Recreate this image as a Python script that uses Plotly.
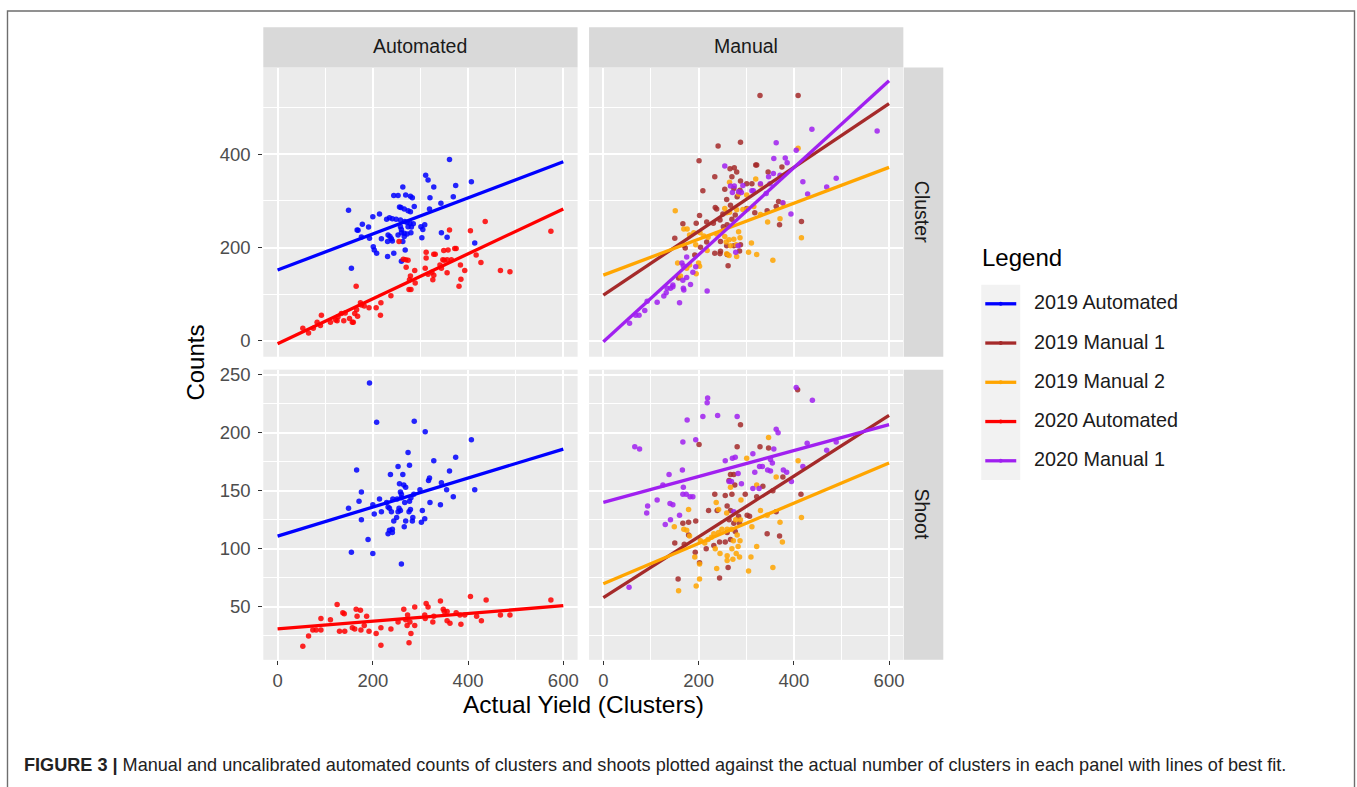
import plotly.graph_objects as go

W, H = 1357, 787

# ------------------------------------------------------------------ data
FIT_X = [0, 600]

# Cluster / Automated
c_a19_x = [361, 311, 316, 328, 374, 407, 369, 263, 244, 253, 269, 279, 283, 320, 343, 287, 256, 259, 266, 274,
           279, 319, 149, 200, 214, 229, 235, 241, 249, 258, 267, 272, 278, 285, 274, 281, 301, 309, 305, 178,
           191, 167, 169, 258, 260, 176, 193, 218, 232, 236, 239, 231, 241, 253, 260, 266, 272, 280, 266, 263,
           344, 356, 303, 414, 201, 203, 208, 268, 231, 244, 260, 155]
c_a19_y = [389, 355, 345, 330, 333, 341, 309, 330, 312, 312, 313, 310, 307, 307, 295, 288, 287, 286, 283, 279,
           277, 283, 280, 266, 272, 261, 264, 262, 261, 259, 256, 254, 252, 251, 245, 244, 245, 249, 239, 250,
           244, 238, 237, 245, 239, 223, 220, 219, 227, 224, 219, 213, 214, 227, 232, 231, 229, 232, 224, 213,
           232, 222, 221, 210, 202, 195, 188, 195, 181, 188, 171, 156]
c_a20_x = [361, 405, 436, 574, 255, 372, 349, 358, 375, 312, 328, 331, 312, 417, 427, 264, 269, 274, 347, 350,
           356, 365, 384, 393, 468, 488, 270, 288, 310, 341, 344, 356, 324, 328, 316, 326, 279, 277, 289, 385,
           381, 276, 280, 165, 238, 217, 207, 192, 182, 174, 176, 166, 162, 168, 159, 157, 216, 142, 134, 139,
           127, 122, 111, 125, 92, 83, 90, 75, 53, 65, 151]
c_a20_y = [238, 236, 256, 235, 213, 198, 194, 195, 198, 190, 186, 186, 178, 184, 168, 175, 174, 173, 174, 173,
           174, 174, 163, 151, 151, 148, 158, 151, 156, 163, 156, 146, 147, 141, 143, 131, 139, 131, 124, 132,
           117, 110, 110, 117, 97, 82, 71, 71, 75, 82, 77, 67, 59, 53, 40, 40, 55, 60, 59, 43,
           52, 45, 40, 43, 55, 40, 33, 27, 27, 17, 48]

# Cluster / Manual
c_m19a_x = [329, 409, 241, 288, 201, 234, 209, 255, 266, 275, 280, 270, 288, 301, 312, 320, 322, 346, 375, 287,
            274, 259, 235, 238, 251, 267, 281, 301, 318, 344, 363, 368, 416, 370, 202, 195, 167, 150, 217, 231,
            245, 252, 260, 270, 277, 204, 217, 246, 259, 274, 288, 246, 234, 245, 260, 286, 192, 169, 158, 262, 172]
c_m19a_y = [526, 526, 418, 426, 386, 352, 322, 325, 369, 371, 362, 352, 343, 337, 337, 377, 377, 362, 373, 323,
            327, 303, 286, 283, 272, 291, 309, 284, 275, 279, 288, 299, 256, 249, 269, 252, 251, 220, 255, 252,
            259, 245, 249, 261, 270, 201, 212, 213, 204, 204, 206, 192, 188, 187, 185, 193, 184, 205, 135, 161, 199]
c_m19b_x = [409, 151, 265, 284, 301, 320, 330, 255, 259, 265, 280, 293, 303, 316, 330, 345, 371, 377, 416, 169,
            176, 181, 190, 203, 211, 194, 220, 238, 255, 264, 274, 287, 284, 258, 267, 279, 311, 259, 264, 280,
            305, 322, 356, 218, 156, 175, 181, 200, 202, 195, 162]
c_m19b_y = [413, 279, 340, 315, 313, 347, 335, 284, 275, 276, 281, 282, 283, 288, 271, 255, 262, 295, 221, 240,
            240, 227, 232, 232, 225, 206, 222, 229, 224, 217, 218, 221, 234, 212, 204, 206, 210, 187, 183, 181,
            190, 185, 173, 194, 167, 156, 163, 167, 160, 144, 139]
c_m20_x = [575, 438, 363, 405, 358, 382, 386, 371, 357, 347, 330, 350, 342, 315, 255, 267, 275, 271, 284, 290,
           293, 312, 419, 429, 469, 489, 394, 377, 283, 278, 175, 165, 168, 194, 188, 175, 167, 146, 141, 132,
           127, 113, 92, 87, 75, 68, 55, 160, 183, 168, 169, 218, 146, 134]
c_m20_y = [450, 454, 425, 409, 391, 392, 382, 355, 359, 352, 337, 337, 316, 322, 375, 332, 332, 318, 320, 318,
           333, 322, 341, 315, 330, 349, 272, 296, 204, 190, 180, 167, 161, 159, 147, 136, 130, 120, 113, 103,
           96, 83, 85, 65, 55, 55, 38, 82, 121, 113, 109, 107, 116, 113]

# Shoot / Automated
s_a19_x = [193, 208, 287, 310, 407, 274, 277, 328, 374, 166, 253, 237, 263, 361, 319, 317, 256, 265, 269, 344,
           355, 414, 176, 171, 299, 258, 260, 286, 242, 251, 260, 267, 277, 280, 200, 214, 229, 232, 235, 255,
           258, 279, 276, 320, 342, 369, 149, 203, 218, 239, 253, 304, 176, 244, 250, 269, 283, 284, 302, 309,
           266, 232, 235, 241, 241, 190, 200, 155, 260]
s_a19_y = [243, 209, 210, 201, 194, 183, 172, 176, 179, 168, 171, 164, 164, 167, 161, 159, 156, 155, 153, 157,
           151, 151, 149, 141, 151, 149, 147, 147, 143, 143, 144, 140, 141, 144, 138, 143, 140, 136, 135, 135,
           133, 134, 132, 140, 138, 145, 135, 130, 132, 132, 132, 133, 125, 124, 127, 124, 124, 127, 123, 126,
           119, 113, 116, 117, 114, 108, 96, 97, 87]
s_a20_x = [405, 438, 574, 342, 312, 316, 288, 265, 125, 137, 140, 165, 174, 187, 167, 91, 111, 273, 309, 328,
           348, 350, 356, 375, 383, 393, 418, 468, 488, 253, 269, 272, 278, 288, 310, 326, 356, 362, 385, 428,
           238, 217, 207, 192, 182, 175, 162, 157, 141, 130, 74, 81, 91, 65, 53, 217, 276, 280]
s_a20_y = [59, 56, 56, 55, 53, 50, 50, 48, 52, 45, 44, 48, 47, 42, 42, 40, 39, 43, 43, 42,
           48, 46, 46, 45, 43, 43, 42, 43, 43, 37, 39, 34, 37, 34, 40, 37, 38, 36, 35, 38,
           31, 32, 27, 29, 34, 30, 31, 32, 29, 29, 30, 30, 30, 25, 16, 17, 19, 27]

# Shoot / Manual
s_m19a_x = [408, 288, 201, 281, 329, 347, 267, 274, 264, 276, 234, 256, 270, 298, 322, 335, 377, 356, 415, 221,
            239, 260, 267, 302, 307, 284, 264, 274, 194, 179, 167, 179, 150, 170, 216, 232, 244, 256, 267, 277,
            260, 344, 370, 363, 193, 202, 262, 244, 157, 286]
s_m19a_y = [237, 207, 190, 188, 188, 187, 164, 164, 159, 155, 147, 146, 147, 147, 145, 154, 162, 150, 147, 133,
            133, 137, 133, 129, 128, 128, 125, 122, 124, 123, 122, 112, 105, 104, 100, 103, 106, 106, 108, 115,
            114, 113, 111, 132, 97, 88, 84, 75, 74, 122]
s_m19b_x = [347, 301, 409, 322, 363, 267, 289, 179, 237, 242, 259, 278, 288, 330, 344, 371, 312, 149, 169, 175,
            181, 204, 213, 232, 242, 249, 260, 269, 281, 287, 273, 283, 279, 270, 235, 245, 220, 227, 260, 272,
            286, 310, 322, 376, 416, 192, 202, 238, 305, 356, 202, 195, 158, 260]
s_m19b_y = [196, 178, 176, 155, 162, 153, 142, 134, 140, 134, 131, 125, 125, 133, 129, 123, 119, 119, 117, 116,
            111, 107, 105, 113, 114, 117, 117, 117, 112, 107, 107, 102, 96, 100, 100, 96, 108, 110, 94, 91,
            93, 93, 102, 106, 127, 93, 87, 83, 81, 84, 74, 68, 64, 90]
s_m20_x = [405, 439, 219, 218, 240, 209, 281, 176, 363, 367, 194, 167, 66, 76, 428, 469, 489, 358, 314, 256,
           271, 277, 351, 355, 334, 345, 351, 378, 385, 395, 419, 328, 318, 283, 166, 138, 269, 264, 290, 314,
           327, 125, 168, 167, 174, 182, 188, 93, 91, 113, 140, 146, 160, 141, 130, 54, 274]
s_m20_y = [239, 228, 230, 226, 215, 214, 214, 211, 203, 200, 194, 192, 188, 186, 191, 185, 192, 186, 182, 176,
           178, 179, 177, 174, 171, 168, 167, 168, 166, 158, 171, 171, 166, 165, 168, 164, 158, 158, 156, 152,
           152, 155, 153, 147, 147, 145, 145, 137, 131, 142, 139, 138, 129, 125, 121, 67, 132]

# lines of best fit: fitted value at FIT_X = 0 and 600
fit_c_a19 = [152, 384]
fit_c_a20 = [-6, 283]
fit_c_m19a = [98, 509]
fit_c_m19b = [141, 372]
fit_c_m20 = [-2, 558]
fit_s_a19 = [111, 186]
fit_s_a20 = [31, 51]
fit_s_m19a = [58, 215]
fit_s_m19b = [70, 174]
fit_s_m20 = [140, 207]

SERIES = ["2019 Automated", "2019 Manual 1", "2019 Manual 2", "2020 Automated", "2020 Manual 1"]
COLORS = ["#0000FF", "#A52A2A", "#FFA500", "#FF0000", "#A020F0"]
COL_FACETS = ["Automated", "Manual"]
ROW_FACETS = ["Cluster", "Shoot"]
X_TICKS = [0, 200, 400, 600]
Y_TICKS_CLUSTER = [0, 200, 400]
Y_TICKS_SHOOT = [50, 100, 150, 200, 250]

# (axis suffix, [(series, x, y, fit)])
PANELS = [
    ("", [("2019 Automated", c_a19_x, c_a19_y, fit_c_a19),
          ("2020 Automated", c_a20_x, c_a20_y, fit_c_a20)]),
    ("2", [("2019 Manual 1", c_m19a_x, c_m19a_y, fit_c_m19a),
           ("2019 Manual 2", c_m19b_x, c_m19b_y, fit_c_m19b),
           ("2020 Manual 1", c_m20_x, c_m20_y, fit_c_m20)]),
    ("3", [("2019 Automated", s_a19_x, s_a19_y, fit_s_a19),
           ("2020 Automated", s_a20_x, s_a20_y, fit_s_a20)]),
    ("4", [("2019 Manual 1", s_m19a_x, s_m19a_y, fit_s_m19a),
           ("2019 Manual 2", s_m19b_x, s_m19b_y, fit_s_m19b),
           ("2020 Manual 1", s_m20_x, s_m20_y, fit_s_m20)]),
]

# ------------------------------------------------------------------ helpers
def PX(x):
    return x / W


def PY(y):
    return 1 - y / H


FONT = "Liberation Sans, Arial, Helvetica, sans-serif"
col_of = dict(zip(SERIES, COLORS))

COLS = [(263.5, 578.0), (589.5, 904.0)]
ROWS = [(63.0, 354.0), (367.0, 659.0)]

fig = go.Figure()

for suffix, series in PANELS:
    xa, ya = "x" + suffix, "y" + suffix
    for name, xs, ys, _ in series:
        fig.add_trace(go.Scatter(x=xs, y=ys, mode="markers", xaxis=xa, yaxis=ya,
                                 marker=dict(size=5.5, color=col_of[name], opacity=0.85,
                                             line=dict(width=0)),
                                 name=name, showlegend=False, hoverinfo="skip"))
    for name, _, _, fit in series:
        fig.add_trace(go.Scatter(x=FIT_X, y=fit, mode="lines", xaxis=xa, yaxis=ya,
                                 line=dict(color=col_of[name], width=3.3),
                                 name=name, showlegend=False, hoverinfo="skip"))

grid = dict(showgrid=True, gridcolor="white", gridwidth=1.8, zeroline=False, showline=False,
            ticks="outside", ticklen=4, tickwidth=1.3, tickcolor="#333333",
            tickfont=dict(family=FONT, size=18.5, color="#4D4D4D"))

layout = dict(width=W, height=H, margin=dict(l=0, r=0, t=0, b=0),
              paper_bgcolor="white", plot_bgcolor="#EBEBEB", showlegend=False)

for i, (suffix, _) in enumerate(PANELS):
    r, c = divmod(i, 2)
    xk = "xaxis" + suffix
    yk = "yaxis" + suffix
    xd = dict(grid, domain=[PX(COLS[c][0]), PX(COLS[c][1])], range=[-30, 630],
              tickmode="array", tickvals=X_TICKS, ticklabelstandoff=0,
              minor=dict(tickvals=[100, 300, 500], showgrid=True, gridcolor="white",
                         gridwidth=0.9, ticks=""),
              anchor="y" + suffix)
    if r == 0:
        xd.update(showticklabels=False, ticks="")
    if r == 0:
        yd = dict(grid, range=[-34, 586], tickmode="array", tickvals=Y_TICKS_CLUSTER,
                  minor=dict(tickvals=[100, 300, 500], showgrid=True, gridcolor="white",
                             gridwidth=0.9, ticks=""))
    else:
        yd = dict(grid, range=[4.4, 254.4], tickmode="array", tickvals=Y_TICKS_SHOOT,
                  minor=dict(tickvals=[25, 75, 125, 175, 225], showgrid=True, gridcolor="white",
                             gridwidth=0.9, ticks=""))
    yd.update(domain=[PY(ROWS[r][1]), PY(ROWS[r][0])], anchor="x" + suffix, ticklabelstandoff=4)
    if c == 1:
        yd.update(showticklabels=False, ticks="")
    layout[xk] = xd
    layout[yk] = yd

fig.update_layout(**layout)

shapes = []
annotations = []

# facet strips
STRIP = "#D9D9D9"
for c, lab in enumerate(COL_FACETS):
    x0, x1 = COLS[c]
    shapes.append(dict(type="rect", xref="paper", yref="paper", x0=PX(x0), x1=PX(x1),
                       y0=PY(63), y1=PY(22.5), fillcolor=STRIP, line=dict(width=0), layer="below"))
    annotations.append(dict(text=lab, x=PX((x0 + x1) / 2), y=PY(41), xref="paper", yref="paper",
                            showarrow=False, xanchor="center", yanchor="middle",
                            font=dict(family=FONT, size=19.5, color="#1A1A1A")))
for r, lab in enumerate(ROW_FACETS):
    y0, y1 = ROWS[r]
    shapes.append(dict(type="rect", xref="paper", yref="paper", x0=PX(904.5), x1=PX(944),
                       y0=PY(y1), y1=PY(y0), fillcolor=STRIP, line=dict(width=0), layer="below"))
    annotations.append(dict(text=lab, x=PX(923), y=PY((y0 + y1) / 2), xref="paper", yref="paper",
                            showarrow=False, xanchor="center", yanchor="middle", textangle=90,
                            font=dict(family=FONT, size=19.5, color="#1A1A1A")))

# axis titles
annotations.append(dict(text="Counts", x=PX(196), y=PY(360), xref="paper", yref="paper",
                        showarrow=False, textangle=-90, xanchor="center", yanchor="middle",
                        font=dict(family=FONT, size=24, color="black")))
annotations.append(dict(text="Actual Yield (Clusters)", x=PX(584), y=PY(704), xref="paper", yref="paper",
                        showarrow=False, xanchor="center", yanchor="middle",
                        font=dict(family=FONT, size=24.5, color="black")))

# legend (ggplot style)
annotations.append(dict(text="Legend", x=PX(981), y=PY(254.5), xref="paper", yref="paper",
                        showarrow=False, xanchor="left", yanchor="middle",
                        font=dict(family=FONT, size=24, color="black")))
shapes.append(dict(type="rect", xref="paper", yref="paper", x0=PX(982), x1=PX(1021),
                   y0=PY(478), y1=PY(281.5), fillcolor="#F2F2F2", line=dict(width=0)))
for i, (name, colr) in enumerate(zip(SERIES, COLORS)):
    yc = 300.7 + i * 39.5
    shapes.append(dict(type="line", xref="paper", yref="paper", x0=PX(986), x1=PX(1017),
                       y0=PY(yc), y1=PY(yc), line=dict(color=colr, width=3.3)))
    shapes.append(dict(type="circle", xref="paper", yref="paper", x0=PX(999.5), x1=PX(1003.5),
                       y0=PY(yc + 2), y1=PY(yc - 2), fillcolor=colr, line=dict(width=0)))
    annotations.append(dict(text=name, x=PX(1033), y=PY(yc - 1.5), xref="paper", yref="paper",
                            showarrow=False, xanchor="left", yanchor="middle",
                            font=dict(family=FONT, size=19.8, color="#1A1A1A")))

# caption
annotations.append(dict(text="<b>FIGURE 3 |</b> Manual and uncalibrated automated counts of clusters and "
                             "shoots plotted against the actual number of clusters in each panel with "
                             "lines of best fit.",
                        x=PX(22), y=PY(765), xref="paper", yref="paper", showarrow=False,
                        xanchor="left", yanchor="middle",
                        font=dict(family=FONT, size=18.1, color="#222222")))

# frame
shapes.append(dict(type="rect", xref="paper", yref="paper", x0=PX(7.5), x1=PX(1355.5),
                   y0=PY(800), y1=PY(6), line=dict(color="#6E6E6E", width=1.4),
                   fillcolor="rgba(0,0,0,0)"))

fig.update_layout(shapes=shapes, annotations=annotations)

fig.write_html("out.html", config={"displayModeBar": False},
               post_script="document.body.style.margin='0px';document.body.style.overflow='hidden';")
